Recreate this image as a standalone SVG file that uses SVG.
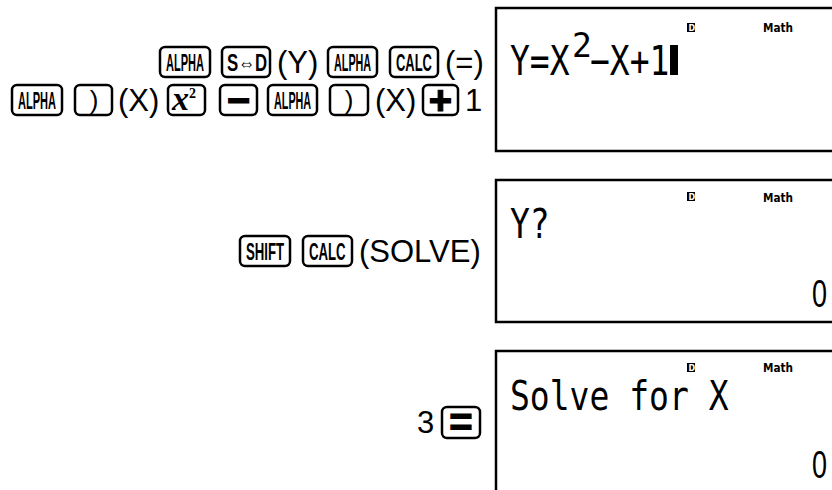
<svg xmlns="http://www.w3.org/2000/svg" width="832" height="490" viewBox="0 0 832 490">
<style>
.key{fill:#fff;stroke:#000;stroke-width:2.5}
.kl{font-family:"Liberation Sans","DejaVu Sans",sans-serif;font-weight:bold;font-size:24px}
.t{font-family:"Liberation Sans",Arial,sans-serif;font-size:31px;fill:#000}
.scr{fill:#fff;stroke:#000;stroke-width:2.5}
.lcd{font-family:"DejaVu Sans Mono",monospace;font-size:33px}
.zero{font-family:"Liberation Sans",Arial,sans-serif;font-size:27px}
.math{font-family:"DejaVu Sans","Liberation Sans",sans-serif;font-weight:bold;font-size:12px}
.ind{font-family:"DejaVu Sans",sans-serif;font-weight:bold;font-size:8px;fill:#fff}
.sym{font-family:"Liberation Sans",Arial,sans-serif;font-weight:bold;text-anchor:middle;stroke:#000;stroke-width:1.2}
.par{font-family:"Liberation Sans",Arial,sans-serif;font-size:26px;text-anchor:middle}
</style>

<g id="step1-row1">
  <rect class="key" x="160" y="47" width="50" height="30" rx="5"/>
  <text class="kl" transform="translate(166,71) scale(0.46,1)">ALPHA</text>
  <rect class="key" x="222" y="47" width="48" height="30" rx="5"/>
  <text class="kl" transform="translate(227,71) scale(0.7,1)">S⇔D</text>
  <text class="t" x="277" y="73">(Y)</text>
  <rect class="key" x="328" y="47" width="49" height="30" rx="5"/>
  <text class="kl" transform="translate(334,71) scale(0.45,1)">ALPHA</text>
  <rect class="key" x="390" y="47" width="48" height="30" rx="5"/>
  <text class="kl" transform="translate(396,71) scale(0.54,1)">CALC</text>
  <text class="t" x="445" y="73">(=)</text>
</g>

<g id="step1-row2">
  <rect class="key" x="12" y="85" width="50" height="30" rx="5"/>
  <text class="kl" transform="translate(18,109) scale(0.46,1)">ALPHA</text>
  <rect class="key" x="75" y="85" width="37" height="30" rx="5"/>
  <text class="par" x="94" y="109">)</text>
  <text class="t" x="118" y="111">(X)</text>
  <rect class="key" x="168" y="85" width="37" height="30" rx="5"/>
  <text x="172" y="110" font-family="Liberation Serif,serif" font-style="italic" font-weight="bold" font-size="34">x<tspan font-size="14" dy="-12" font-style="normal">2</tspan></text>
  <rect class="key" x="220" y="85" width="37" height="30" rx="5"/>
  <text class="sym" x="238.5" y="114" font-size="40">−</text>
  <rect class="key" x="268" y="85" width="49" height="30" rx="5"/>
  <text class="kl" transform="translate(274,109) scale(0.45,1)">ALPHA</text>
  <rect class="key" x="330" y="85" width="38" height="30" rx="5"/>
  <text class="par" x="349" y="109">)</text>
  <text class="t" x="375" y="111">(X)</text>
  <rect class="key" x="423" y="85" width="35" height="30" rx="5"/>
  <text class="sym" x="440.5" y="114" font-size="40">+</text>
  <text class="t" x="465" y="111">1</text>
</g>

<g id="screen1">
  <rect class="scr" x="496" y="8" width="400" height="143"/>
  <rect x="687" y="23" width="8" height="9"/>
  <text class="ind" x="688.5" y="30.5">D</text>
  <text class="math" x="763" y="32" textLength="30" lengthAdjust="spacingAndGlyphs">Math</text>
  <text class="lcd" transform="translate(510,75) scale(1,1.25)">Y=X</text>
  <text class="lcd" x="572" y="57" font-size="17">2</text>
  <text class="lcd" transform="translate(590,75) scale(1,1.25)">−X+1</text>
  <rect x="670" y="45" width="8" height="30"/>
</g>

<g id="step2-row">
  <rect class="key" x="240" y="236" width="50" height="30" rx="5"/>
  <text class="kl" transform="translate(246,260) scale(0.55,1)">SHIFT</text>
  <rect class="key" x="303" y="236" width="49" height="30" rx="5"/>
  <text class="kl" transform="translate(309,260) scale(0.55,1)">CALC</text>
  <text class="t" x="359" y="262">(SOLVE)</text>
</g>

<g id="screen2">
  <rect class="scr" x="496" y="180" width="400" height="142"/>
  <rect x="687" y="192" width="8" height="9"/>
  <text class="ind" x="688.5" y="199.5">D</text>
  <text class="math" x="763" y="202" textLength="30" lengthAdjust="spacingAndGlyphs">Math</text>
  <text class="lcd" transform="translate(510,238) scale(1,1.25)">Y?</text>
  <text class="zero" transform="translate(812,307) scale(1,1.45)">0</text>
</g>

<g id="step3-row">
  <text class="t" x="417" y="433">3</text>
  <rect class="key" x="442" y="407" width="38" height="31" rx="5"/>
  <text class="sym" x="461" y="436" font-size="40">=</text>
</g>

<g id="screen3">
  <rect class="scr" x="496" y="351" width="400" height="200"/>
  <rect x="687" y="363" width="8" height="9"/>
  <text class="ind" x="688.5" y="370.5">D</text>
  <text class="math" x="763" y="372" textLength="30" lengthAdjust="spacingAndGlyphs">Math</text>
  <text class="lcd" transform="translate(510,410) scale(1,1.25)">Solve for X</text>
  <text class="zero" transform="translate(812,478) scale(1,1.45)">0</text>
</g>
</svg>
